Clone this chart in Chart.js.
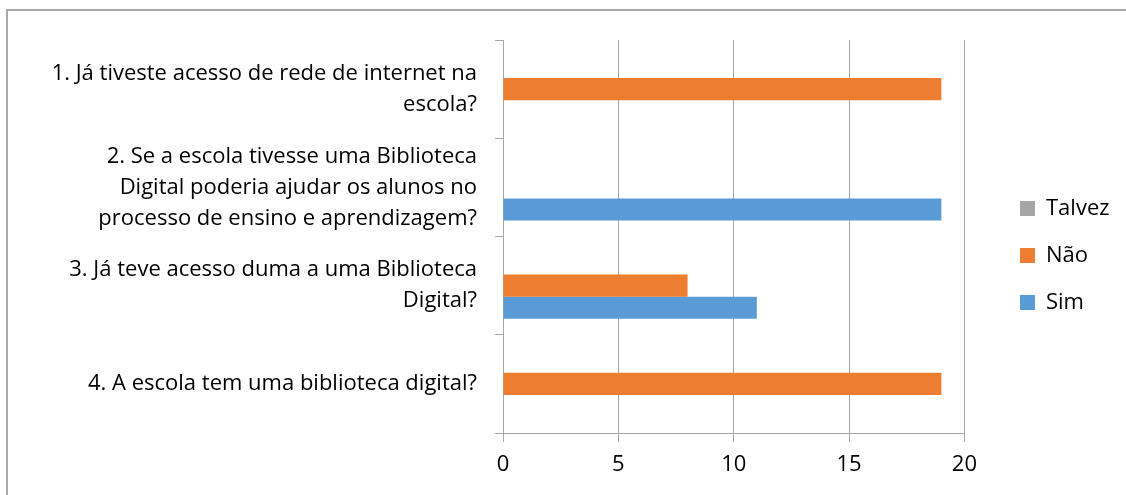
<!DOCTYPE html>
<html>
<head>
<meta charset="utf-8">
<script src="https://cdn.jsdelivr.net/npm/chart.js@4.4.1/dist/chart.umd.min.js"></script>
<style>
  html, body { margin: 0; padding: 0; background: #fff; overflow: hidden; }
  #frame { position: absolute; left: 6px; top: 9px; width: 1200px; height: 600px;
           border-left: 2px solid #a9a9a9; border-top: 2px solid #a9a9a9; box-sizing: border-box; }
  #c { position: absolute; left: 0; top: 0; }
</style>
</head>
<body>
<div id="frame"></div>
<canvas id="c" width="1126" height="495"></canvas>
<script>
const categories = [
  ["1. Já tiveste acesso de rede de internet na", "escola?"],
  ["2. Se a escola tivesse uma Biblioteca", "Digital poderia ajudar os alunos no", "processo de ensino e aprendizagem?"],
  ["3. Já teve acesso duma a uma Biblioteca", "Digital?"],
  ["4. A escola tem uma biblioteca digital?"]
];
const seriesNames = ["Talvez", "Não", "Sim"];
const talvez = [0, 0, 0, 0];
const nao = [19, 0, 8, 19];
const sim = [0, 19, 11, 0];
const xTicks = [0, 5, 10, 15, 20];

const FONT = "'Open Sans', Lato, sans-serif";
const GRID = '#a6a6a6';

const legendShift = {
  id: 'legendShift',
  afterLayout(chart) {
    const l = chart.legend;
    if (!l) return;
    const dx = 1020 - (l.left + 25);
    const dy = -12;
    l.left += dx; l.right += dx; l.top += dy; l.bottom += dy;
    if (l.adjustHitBoxes) l.adjustHitBoxes();
  }
};

new Chart(document.getElementById('c'), {
  type: 'bar',
  data: {
    labels: categories,
    datasets: [
      { label: seriesNames[0], data: talvez, backgroundColor: '#A5A5A5' },
      { label: seriesNames[1], data: nao, backgroundColor: '#ED7D31' },
      { label: seriesNames[2], data: sim, backgroundColor: '#5B9BD5' }
    ]
  },
  options: {
    indexAxis: 'y',
    responsive: false,
    animation: false,
    devicePixelRatio: 1,
    datasets: { bar: { barPercentage: 1, categoryPercentage: 0.672 } },
    layout: { padding: { top: 40, left: 0, right: 37, bottom: 0 } },
    plugins: {
      tooltip: { enabled: false },
      legend: {
        position: 'right',
        labels: {
          boxWidth: 15, boxHeight: 15, padding: 25, color: '#000',
          font: { family: FONT, size: 22 }
        }
      }
    },
    scales: {
      x: {
        min: 0, max: 20,
        afterBuildTicks(scale) { scale.ticks = xTicks.map(v => ({ value: v })); },
        afterFit(scale) { scale.height = 62; },
        grid: { color: GRID, lineWidth: 1, tickLength: 9, drawOnChartArea: true },
        border: { display: true, color: GRID, width: 1 },
        ticks: { color: '#000', padding: 10, font: { family: FONT, size: 22 } }
      },
      y: {
        afterFit(scale) { scale.width = 503; },
        grid: { color: GRID, lineWidth: 1, tickLength: 8, drawOnChartArea: false, offset: true },
        border: { display: true, color: GRID, width: 1 },
        ticks: { color: '#000', padding: 18, font: { family: FONT, size: 22, lineHeight: 1.41 } }
      }
    }
  },
  plugins: [legendShift]
});
</script>
</body>
</html>
